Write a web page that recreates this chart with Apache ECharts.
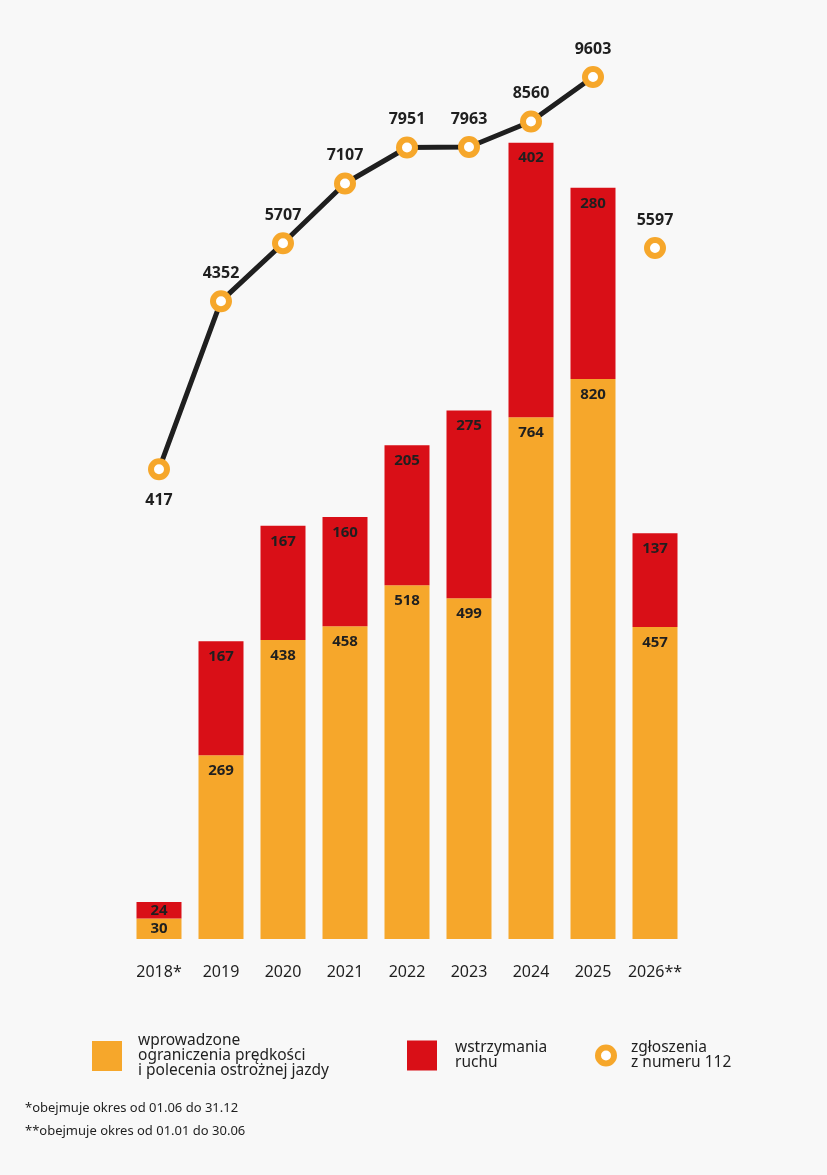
<!DOCTYPE html>
<html>
<head>
<meta charset="utf-8">
<script src="https://cdn.jsdelivr.net/npm/echarts@6/dist/echarts.min.js"></script>
<style>
  html, body { margin: 0; padding: 0; background: #f8f8f8; }
  #chart { width: 827px; height: 1175px; }
</style>
</head>
<body>
<div id="chart"></div>
<script>
const years = ['2018*', '2019', '2020', '2021', '2022', '2023', '2024', '2025', '2026**'];
const speedLimits = [30, 269, 438, 458, 518, 499, 764, 820, 457];
const trafficStops = [24, 167, 167, 160, 205, 275, 402, 280, 137];
const calls112 = [417, 4352, 5707, 7107, 7951, 7963, 8560, 9603, 5597];

const ORANGE = '#f6a72b';
const RED = '#d90f17';
const DARK = '#1f1f1f';
const FONT = 'Noto Sans';

const nameOrange = 'wprowadzone\nograniczenia prędkości\ni polecenia ostrożnej jazdy';
const nameRed = 'wstrzymania\nruchu';
const nameRing = 'zgłoszenia\nz numeru 112';

// linia kończy się na 2025, punkt 2026 stoi osobno
const lastIdx = calls112.length - 1;
const lineMain = calls112.map((v, i) => (i === lastIdx ? '-' : v));
const lineLast = calls112.map((v, i) => (i === lastIdx ? v : '-'));

// pierwszy słupek jest niski, etykiety na środku segmentów
const barData = (arr) => arr.map((v, i) => (i === 0
  ? { value: v, label: { position: 'inside' } }
  : v));

const chart = echarts.init(document.getElementById('chart'));

const barLabel = {
  show: true,
  position: 'insideTop',
  distance: 8,
  color: DARK,
  fontFamily: FONT,
  fontWeight: 'bold',
  fontSize: 15
};

const lineLabel = {
  show: true,
  position: 'top',
  distance: 9,
  color: DARK,
  fontFamily: FONT,
  fontWeight: 'bold',
  fontSize: 16
};

const ringStyle = { color: '#ffffff', borderColor: ORANGE, borderWidth: 6 };

const legendText = (pad) => ({
  color: DARK,
  fontFamily: FONT,
  fontSize: 15.5,
  lineHeight: 15,
  padding: [0, 0, 0, pad]
});

const option = {
  backgroundColor: '#f8f8f8',
  animation: false,
  textStyle: { fontFamily: FONT },
  grid: [
    { left: 128, right: 141, top: 99, bottom: 236 },
    { left: 128, right: 141, top: 60, bottom: 688 }
  ],
  xAxis: [
    {
      type: 'category', gridIndex: 0, data: years,
      axisLine: { show: false }, axisTick: { show: false },
      axisLabel: { color: DARK, fontFamily: FONT, fontSize: 16, margin: 25, interval: 0 }
    },
    {
      type: 'category', gridIndex: 1, data: years, show: false
    }
  ],
  yAxis: [
    { type: 'value', gridIndex: 0, min: 0, max: 1230, show: false, splitLine: { show: false } },
    { type: 'value', gridIndex: 1, min: 0, max: 10000, show: false, splitLine: { show: false } }
  ],
  legend: [
    {
      data: [{ name: nameOrange, icon: 'rect' }],
      left: 87, top: 1028, itemWidth: 30, itemHeight: 30,
      textStyle: legendText(11)
    },
    {
      data: [{ name: nameRed, icon: 'rect' }],
      left: 402, top: 1035, itemWidth: 30, itemHeight: 30,
      textStyle: legendText(13)
    },
    {
      data: [{ name: nameRing, icon: 'circle', itemStyle: ringStyle }],
      left: 590, top: 1035, itemWidth: 16, itemHeight: 16,
      textStyle: legendText(12)
    }
  ],
  graphic: [
    {
      type: 'text', left: 25, top: 1102,
      style: { text: '*obejmuje okres od 01.06 do 31.12', fill: DARK, font: '13px "Noto Sans"' }
    },
    {
      type: 'text', left: 25, top: 1125,
      style: { text: '**obejmuje okres od 01.01 do 30.06', fill: DARK, font: '13px "Noto Sans"' }
    }
  ],
  series: [
    {
      name: nameOrange, type: 'bar', stack: 'all',
      xAxisIndex: 0, yAxisIndex: 0,
      barWidth: 45,
      itemStyle: { color: ORANGE },
      label: barLabel,
      data: barData(speedLimits)
    },
    {
      name: nameRed, type: 'bar', stack: 'all',
      xAxisIndex: 0, yAxisIndex: 0,
      barWidth: 45,
      itemStyle: { color: RED },
      label: barLabel,
      data: barData(trafficStops)
    },
    {
      name: nameRing, type: 'line',
      xAxisIndex: 1, yAxisIndex: 1,
      symbol: 'circle', symbolSize: 16, showAllSymbol: true,
      lineStyle: { color: DARK, width: 5 },
      itemStyle: ringStyle,
      label: lineLabel,
      labelLayout: { hideOverlap: false },
      data: lineMain.map((v, i) => (i === 0
        ? { value: v, label: { position: 'bottom', distance: 12 } }
        : v)),
      z: 5
    },
    {
      name: nameRing, type: 'line',
      xAxisIndex: 1, yAxisIndex: 1,
      symbol: 'circle', symbolSize: 16,
      lineStyle: { width: 0 },
      itemStyle: ringStyle,
      label: lineLabel,
      data: lineLast,
      z: 5
    }
  ]
};

chart.setOption(option);
</script>
</body>
</html>
